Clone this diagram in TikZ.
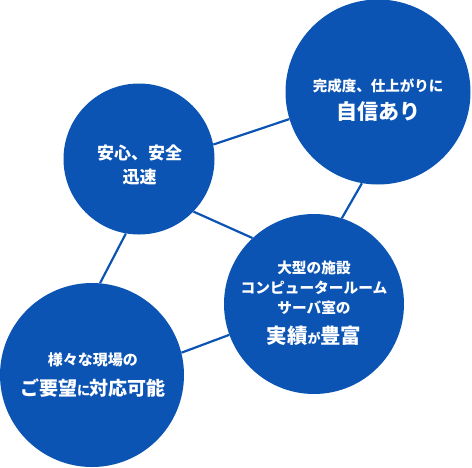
\documentclass[tikz,border=0pt]{standalone}
\usepackage{fontspec}
\setmainfont{Noto Sans CJK JP}
\usetikzlibrary{calc}
\definecolor{bubbleblue}{RGB}{11, 84, 180}

\begin{document}
\begin{tikzpicture}[
    x=1pt, y=-1pt,
    bubble/.style={
        circle, 
        fill=bubbleblue, 
        draw=none, 
        inner sep=0pt
    },
    caption/.style={
        text=white, 
        align=center, 
        inner sep=0pt, 
        font=\bfseries
    },
    link/.style={
        draw=bubbleblue, 
        line width=2.2pt
    }
]
\useasboundingbox (0,0) rectangle (472,467);

% ==================== CIRCLES ====================
\node (safe) [bubble, minimum size=151pt] at (139,159) {};
\node (quality) [bubble, minimum size=185pt] at (378,92) {};
\node (record) [bubble, minimum size=180pt] at (314,304) {};
\node (request) [bubble, minimum size=184pt] at (92,375) {};

% ==================== CAPTIONS ====================
\node (safetext) [caption, font=\bfseries\fontsize{17}{24}\selectfont] at (139.5,165) {安心、安全\\迅速};
\node (qualitytext) [caption, font=\bfseries\fontsize{14.5}{27.5}\selectfont] at (378,100) {
    完成度、仕上がりに\\
    {\fontsize{21}{27.5}\selectfont 自信あり}
};
\node (recordtext) [caption, font=\bfseries\fontsize{14.7}{20}\selectfont] at (314,303.5) {
    大型の施設\\
    コンピュータールーム\\
    サーバ室の\\[10pt]
    {\fontsize{20.5}{20}\selectfont 実績}{\fontsize{13}{20}\selectfont が}{\fontsize{20.5}{20}\selectfont 豊富}
};
\node (requesttext) [caption, font=\bfseries\fontsize{15}{29.5}\selectfont] at (93,375) {
    様々な現場の\\
    {\fontsize{19}{29.5}\selectfont ご要望}{\fontsize{13}{29.5}\selectfont に}{\fontsize{19}{29.5}\selectfont 対応可能}
};

% ==================== CONNECTIONS ====================
\draw [link] (safe.11.5) -- (quality.197);
\draw [link] (safe.-44.5) -- (record.133.6);
\draw [link] (quality.260.6) -- (record.72);
\draw [link] (safe.260) -- (request.85);
\draw [link] (request.14) -- (record.200.6);

\end{tikzpicture}
\end{document}
